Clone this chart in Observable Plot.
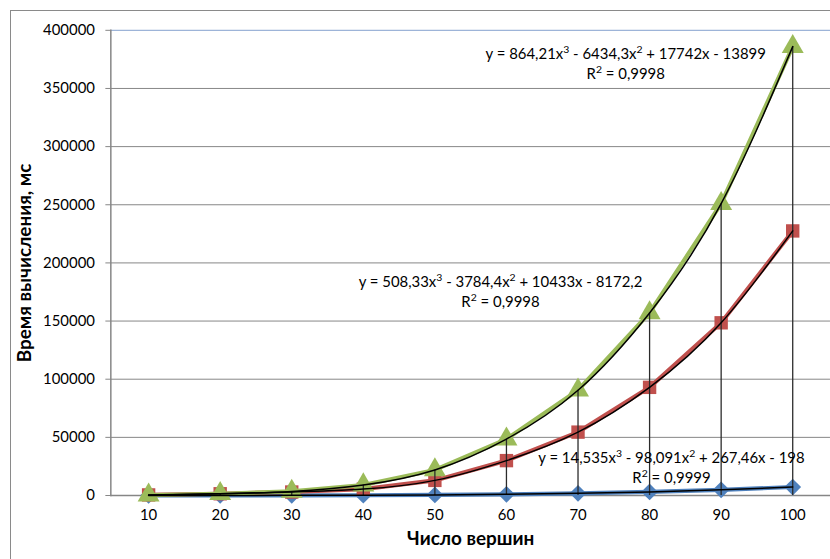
<!DOCTYPE html>
<html>
<head>
<meta charset="utf-8">
<script src="https://cdn.jsdelivr.net/npm/d3@7"></script>
<script src="https://cdn.jsdelivr.net/npm/@observablehq/plot@0.6"></script>
<style>
  html, body { margin: 0; padding: 0; background: #fff; overflow: hidden; }
  #wrap { position: relative; width: 830px; height: 559px; overflow: hidden; background: #fff; }
  #border { position: absolute; left: 10px; top: 10px; width: 900px; height: 700px; border: 1px solid #8a8a8a; }
  #chart { position: absolute; left: 0; top: 0; }
</style>
</head>
<body>
<div id="wrap"><div id="border"></div><div id="chart"></div></div>
<script>
// Categories (число вершин)
const categories = ["10", "20", "30", "40", "50", "60", "70", "80", "90", "100"];
// Series values (мс)
const series1 = [20, 60, 120, 250, 500, 1000, 1900, 3100, 4900, 7300];          // blue diamonds
const series2 = [500, 1500, 3000, 5500, 13000, 30000, 54500, 93000, 148500, 227500]; // red squares
const series3 = [300, 1500, 3500, 9000, 22000, 48500, 90500, 157000, 251000, 386000]; // green triangles
const seriesNames = ["Ряд1", "Ряд2", "Ряд3"];
const seriesColors = ["#4F81BD", "#C0504D", "#9BBB59"];
const seriesSymbols = ["diamond2", "square", "triangle"];
const seriesRadius = [7.6, 7.6, 8.2];

// Trendline labels
const equations = [
  "y = 14,535x³ - 98,091x² + 267,46x - 198",
  "y = 508,33x³ - 3784,4x² + 10433x - 8172,2",
  "y = 864,21x³ - 6434,3x² + 17742x - 13899"
];
const rSquared = ["R² = 0,9999", "R² = 0,9998", "R² = 0,9998"];
const labelCategory = ["80", "60", "80"];
const labelValue = [25200, 176000, 372000];
const labelDx = [22, -6, -24];

const yTicks = [0, 50000, 100000, 150000, 200000, 250000, 300000, 350000, 400000];
const xTitle = "Число вершин";
const yTitle = "Время вычисления, мс";

const allSeries = [series1, series2, series3];
const rows = allSeries.map((s, i) => categories.map((c, j) => ({cat: c, value: s[j], series: seriesNames[i]})));
const maxRows = categories.map((c, j) => ({cat: c, max: Math.max(series1[j], series2[j], series3[j])}));

const marks = [
  Plot.gridY(yTicks.slice(0, -1), {stroke: "#868686", strokeOpacity: 1, strokeWidth: 1}),
  Plot.ruleY([yTicks[yTicks.length - 1]], {stroke: "#9db4d8", strokeWidth: 1.2}),
  Plot.ruleY([0], {stroke: "#868686", strokeWidth: 1.5}),
  Plot.frame({anchor: "left", stroke: "#868686", strokeWidth: 1.5})
];
rows.forEach((r, i) => {
  marks.push(Plot.line(r, {x: "cat", y: "value", stroke: seriesColors[i], strokeWidth: 4.2, strokeLinejoin: "round"}));
  marks.push(Plot.dot(r, {x: "cat", y: "value", symbol: () => seriesSymbols[i], r: seriesRadius[i], fill: seriesColors[i], stroke: "none"}));
});
marks.push(Plot.ruleX(maxRows, {x: "cat", y1: 0, y2: "max", stroke: "#2b2b2b", strokeWidth: 1.3}));
rows.forEach((r) => {
  marks.push(Plot.line(r, {x: "cat", y: "value", curve: "natural", stroke: "#000", strokeWidth: 1.5}));
});
equations.forEach((eq, i) => {
  marks.push(Plot.text([eq + "\n" + rSquared[i]], {
    x: () => labelCategory[i], y: () => labelValue[i], dx: labelDx[i],
    text: d => d, fill: "#000", fontSize: 15, lineHeight: 1.35, textAnchor: "middle"
  }));
});
marks.push(Plot.axisY(yTicks, {tickSize: 5, tickPadding: 11, tickFormat: d => String(d), stroke: "#868686", fill: "#000", fontSize: 15, label: null}));
marks.push(Plot.axisX({tickSize: 0, tickPadding: 14, fill: "#000", fontSize: 15, label: null}));
marks.push(Plot.text([xTitle], {frameAnchor: "bottom", dy: 50, fontWeight: "bold", fontSize: 19, fill: "#000", textAnchor: "middle"}));
marks.push(Plot.text([yTitle], {frameAnchor: "left", dx: -86, rotate: -90, fontWeight: "bold", fontSize: 19, fill: "#000", textAnchor: "middle"}));

const chart = Plot.plot({
  width: 835,
  height: 560,
  marginLeft: 111,
  marginRight: 0,
  marginTop: 30,
  marginBottom: 62,
  style: {fontFamily: "Lato, 'Open Sans', sans-serif", fontSize: "15px", background: "transparent", color: "#000", overflow: "visible"},
  x: {type: "point", domain: categories, padding: 0.5},
  y: {domain: [0, 400000], nice: false},
  marks
});
document.getElementById("chart").appendChild(chart);

// Render ³ and ² as proper superscripts (still real text)
const supMap = {"³": "3", "²": "2"};
d3.select(chart).selectAll("text tspan").each(function () {
  const s = this.textContent;
  if (!/[³²]/.test(s)) return;
  const parts = s.split(/([³²])/);
  this.textContent = "";
  const node = d3.select(this);
  parts.forEach(p => {
    if (!p) return;
    if (supMap[p]) {
      node.append("tspan").attr("baseline-shift", "super").attr("font-size", 10.5).text(supMap[p]);
    } else {
      node.append("tspan").text(p);
    }
  });
});
</script>
</body>
</html>
